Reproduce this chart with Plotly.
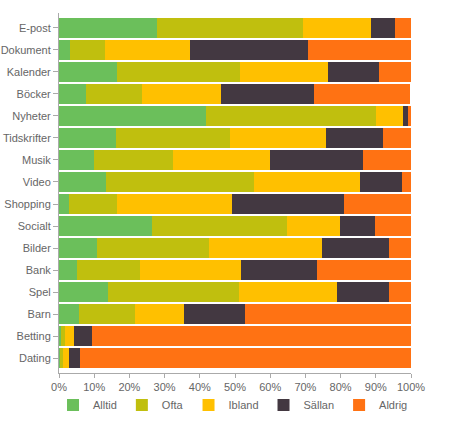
import plotly.graph_objects as go

categories = [
    "E-post", "Dokument", "Kalender", "Böcker", "Nyheter", "Tidskrifter",
    "Musik", "Video", "Shopping", "Socialt", "Bilder", "Bank", "Spel",
    "Barn", "Betting", "Dating",
]

alltid = [27.9, 3.2, 16.6, 7.6, 41.9, 16.1, 9.8, 13.3, 2.9, 26.4, 10.7, 5.0, 13.9, 5.6, 0.5, 0.4]
ofta = [41.3, 10.0, 34.7, 15.9, 48.1, 32.6, 22.7, 42.0, 13.7, 38.3, 32.0, 17.9, 37.3, 15.9, 1.1, 0.6]
ibland = [19.4, 24.1, 25.2, 22.4, 7.8, 27.1, 27.3, 30.1, 32.6, 15.2, 32.1, 28.7, 27.8, 13.9, 2.8, 1.7]
sallan = [6.9, 33.5, 14.3, 26.6, 1.3, 16.3, 26.5, 11.9, 31.9, 9.8, 19.0, 21.8, 14.7, 17.3, 5.1, 3.2]
aldrig = [4.5, 29.2, 9.2, 27.2, 0.9, 7.9, 13.7, 2.7, 18.9, 10.3, 6.2, 26.6, 6.3, 47.3, 90.5, 94.1]

series = [
    ("Alltid", alltid, "#6bbf5b"),
    ("Ofta", ofta, "#c0bf0e"),
    ("Ibland", ibland, "#ffc000"),
    ("Sällan", sallan, "#433841"),
    ("Aldrig", aldrig, "#ff7213"),
]

tick_vals = [0, 10, 20, 30, 40, 50, 60, 70, 80, 90, 100]
tick_text = [f"{v}%" for v in tick_vals]

fig = go.Figure()
for name, vals, color in series:
    fig.add_trace(
        go.Bar(
            x=vals,
            y=categories,
            name=name,
            orientation="h",
            marker=dict(color=color, line=dict(width=0)),
        )
    )

axis_color = "#aaaaaa"
text_color = "#666666"
tick_font = dict(family="Liberation Sans, Arial, sans-serif", size=11, color=text_color)

fig.update_layout(
    barmode="stack",
    bargap=0.1,
    width=456,
    height=422,
    margin=dict(l=59, r=45, t=13, b=49, autoexpand=False),
    plot_bgcolor="white",
    paper_bgcolor="white",
    font=tick_font,
    # x slightly below 0 lets the one-row legend use the left margin width too
    legend=dict(
        orientation="h",
        traceorder="normal",
        x=-0.017,
        xanchor="left",
        y=-0.089,
        yanchor="middle",
        font=tick_font,
    ),
)
fig.update_xaxes(
    range=[0, 100],
    tickvals=tick_vals,
    ticktext=tick_text,
    tickfont=tick_font,
    showgrid=False,
    zeroline=False,
    showline=True,
    linecolor=axis_color,
    linewidth=1,
    ticks="outside",
    ticklen=4,
    tickcolor=axis_color,
    automargin=False,
)
fig.update_yaxes(
    categoryorder="array",
    categoryarray=categories,
    range=[15.675, -0.675],
    tickfont=tick_font,
    showgrid=False,
    showline=True,
    linecolor=axis_color,
    linewidth=1,
    ticks="outside",
    ticklen=5,
    tickcolor=axis_color,
    automargin=False,
)

# drop the browser's default 8px body margin so the figure sits at the page corner
fig.write_html(
    "out.html",
    config={"displayModeBar": False},
    post_script="document.body.style.margin = '0';",
)
